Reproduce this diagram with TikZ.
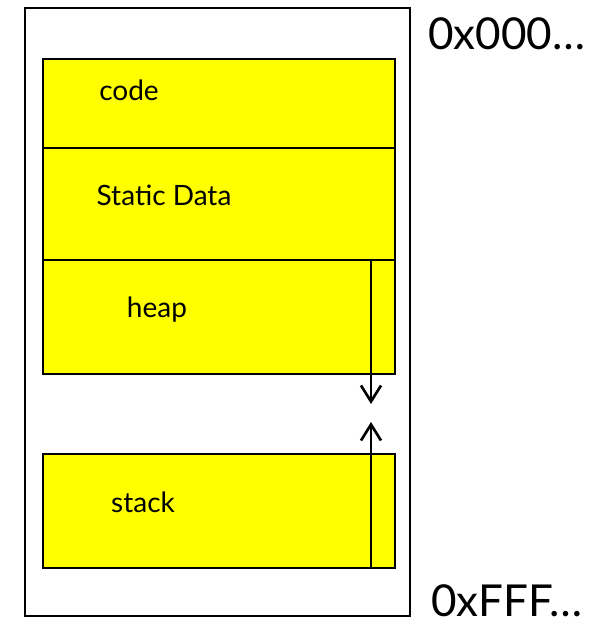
\documentclass[tikz,border=0pt]{standalone}
\usepackage{fontspec}
\setmainfont{Lato}
\usetikzlibrary{arrows.meta}
\definecolor{segyellow}{RGB}{255,255,0}
\tikzset{
  segment/.style={draw, line width=1.5pt, fill=segyellow, rectangle, inner sep=0pt,
                  anchor=north west, minimum width=264pt},
  seglabel/.style={anchor=base, font=\fontsize{21}{25}\selectfont},
  addr/.style={anchor=base west, inner sep=0pt, font=\fontsize{33}{38}\selectfont},
  growline/.style={line width=1.5pt, -{Straight Barb[length=12pt, width=15pt, line width=2pt]}}
}
\begin{document}
\begin{tikzpicture}[x=0.75pt, y=-0.75pt]
        \useasboundingbox (0, 0) rectangle (613, 627);
        \draw[line width=1.5pt] (25, 8) rectangle (410, 616);

        % memory segments, top to bottom
        \node[segment, minimum height=66.75pt] (code) at (42, 58) {};
        \node[segment, minimum height=84pt] (static) at (42, 147) {};
        \node[segment, minimum height=85.5pt] (heap) at (42, 259) {};
        \node[segment, minimum height=85.5pt] (stack) at (42, 453) {};

        \node[seglabel] (codetxt) at (129, 101) {code};
        \node[seglabel] (statictxt) at (164, 205) {Static Data};
        \node[seglabel] (heaptxt) at (157, 317) {heap};
        \node[seglabel] (stacktxt) at (143, 512) {stack};

        % heap grows down, stack grows up
        \def\gx{371}
        \coordinate (heapend) at (\gx, 404);
        \coordinate (stackend) at (\gx, 422);
        \draw[growline] (heap.north -| heapend) -- (heapend);
        \draw[growline] (stack.south -| stackend) -- (stackend);

        \node[addr] (low) at (428, 50) {0x000…};
        \node[addr] (high) at (431, 616) {0xFFF…};
    \end{tikzpicture}
\end{document}
